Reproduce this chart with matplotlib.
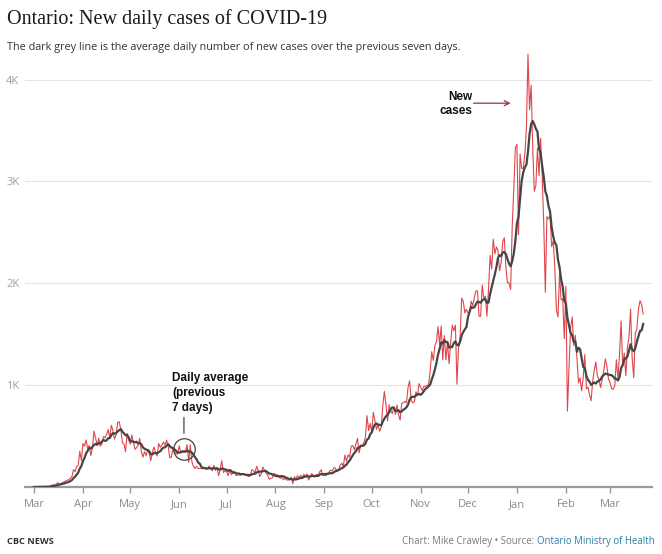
import matplotlib
matplotlib.use('Agg')
import matplotlib.pyplot as plt
import matplotlib.dates as mdates
import numpy as np
import pandas as pd

# daily new cases reported in Ontario, one list per month
mar20 = [0, 1, 1, 2, 3, 3, 2, 4, 5, 5, 5, 17, 20, 20, 27, 42, 32, 26, 44, 50,
         59, 67, 71, 85, 100, 170, 151, 200, 211, 351, 260]
apr20 = [426, 401, 462, 375, 408, 309, 379, 550, 478, 411, 478, 401, 421, 494, 483,
         514, 564, 485, 606, 551, 470, 510, 634, 640, 567, 437, 424, 347, 525, 459]
may20 = [421, 511, 434, 370, 387, 412, 477, 346, 294, 346, 308, 361, 329, 258, 345,
         391, 340, 304, 427, 390, 413, 441, 412, 460, 404, 287, 292, 383, 344, 323, 326]
jun20 = [404, 335, 338, 356, 344, 415, 243, 415, 251, 203, 182, 203, 182, 181, 184,
         178, 190, 173, 180, 206, 177, 160, 212, 163, 189, 111, 178, 257, 142, 157]
jul20 = [153, 111, 165, 121, 138, 154, 112, 118, 118, 116, 130, 129, 116, 111, 102,
         111, 170, 164, 135, 203, 165, 103, 129, 195, 168, 137, 119, 76, 86, 89, 134]
aug20 = [121, 122, 104, 86, 95, 71, 88, 70, 68, 70, 95, 33, 102, 78, 111, 90, 115,
         89, 125, 100, 129, 69, 103, 132, 108, 100, 125, 118, 148, 169, 112]
sep20 = [114, 111, 132, 148, 165, 158, 190, 185, 149, 170, 213, 232, 204, 313, 251,
         315, 293, 401, 407, 365, 425, 478, 335, 409, 409, 435, 491, 700, 554, 625]
oct20 = [538, 732, 653, 566, 615, 548, 583, 797, 939, 809, 649, 807, 746, 721, 783,
         712, 805, 704, 658, 821, 827, 841, 826, 978, 1042, 851, 827, 834, 934, 896, 1015]
nov20 = [977, 948, 987, 987, 998, 1003, 1132, 1328, 1242, 1388, 1426, 1575, 1396, 1581,
         1248, 1487, 1249, 1417, 1210, 1418, 1588, 1534, 1589, 1009, 1373, 1478, 1855,
         1822, 1708, 1746]
dec20 = [1707, 1723, 1824, 1780, 1859, 1924, 1925, 1676, 1676, 1983, 1848, 1873, 1677,
         1940, 2275, 2139, 2432, 2290, 2357, 2316, 2123, 2202, 2408, 2447, 2159, 2005,
         2005, 1939, 2553, 2923, 3328]
jan21 = [3363, 2476, 3270, 3128, 3128, 3266, 3519, 4249, 3704, 3945, 3338, 2903, 2961,
         3326, 3056, 3422, 3056, 2578, 1913, 2655, 2632, 2662, 2359, 2417, 2154, 1740,
         1670, 2093, 1837, 1848, 1456]
feb21 = [1969, 745, 1172, 1563, 1670, 1388, 1489, 1265, 1022, 1072, 945, 1076, 1300,
         964, 981, 904, 847, 1038, 1150, 1228, 1087, 1058, 975, 1054, 1138, 1258, 1185,
         1062]
mar21 = [1023, 966, 958, 994, 1250, 1068, 1299, 1631, 1185, 1316, 1092, 1371, 1468,
         1747, 1268, 1074, 1508, 1553, 1745, 1829, 1791, 1699]

start_date = '2020-03-01'
ytick_vals = [1000, 2000, 3000, 4000]
ytick_labels = ['1K', '2K', '3K', '4K']

daily = mar20 + apr20 + may20 + jun20 + jul20 + aug20 + sep20 + oct20 + nov20 + dec20 + jan21 + feb21 + mar21
dates = pd.date_range(start_date, periods=len(daily), freq='D')
cases = pd.Series(daily, index=dates)
avg7 = cases.rolling(7, min_periods=1).mean()

W, H = 662, 554
fig = plt.figure(figsize=(W / 100, H / 100), dpi=100)
ax = fig.add_axes([25 / W, 67 / H, (652 - 25) / W, (487 - 49) / H])

ax.plot(cases.index, cases.values, color='#e0454b', lw=0.8, zorder=3)
ax.plot(avg7.index, avg7.values, color='#454545', lw=1.6, zorder=4)

ax.set_xlim(pd.Timestamp('2020-02-24 07:00'), pd.Timestamp('2021-03-27 14:00'))
ax.set_ylim(0, 4300)

for s in ['top', 'right', 'left']:
    ax.spines[s].set_visible(False)
ax.spines['bottom'].set_color('#9a9a9a')
ax.spines['bottom'].set_linewidth(1.6)

ax.xaxis.set_major_locator(mdates.MonthLocator())
ax.xaxis.set_major_formatter(mdates.DateFormatter('%b'))
ax.tick_params(axis='x', direction='out', length=4.5, width=1, color='#9a9a9a',
               labelcolor='#8a8a8a', labelsize=8, pad=4)
for lab in ax.get_xticklabels():
    lab.set_family('Open Sans')

ax.set_yticks(ytick_vals)
ax.set_yticklabels(ytick_labels, family='Open Sans')
ax.tick_params(axis='y', length=0, labelcolor='#a0a0a0', labelsize=8, pad=4)
ax.grid(axis='y', color='#e4e4e4', lw=0.8)
ax.set_axisbelow(True)

# annotations
ax.text(pd.Timestamp('2020-05-27 12:00'), 1125, 'Daily average\n(previous\n7 days)',
        family='Liberation Sans', weight='bold', fontsize=8.5, color='#111111',
        ha='left', va='top', linespacing=1.3, zorder=6)
ax.annotate('', xy=(pd.Timestamp('2020-06-04'), 500), xytext=(pd.Timestamp('2020-06-04'), 710),
            arrowprops=dict(arrowstyle='-', color='#444444', lw=0.9))
ax.plot([pd.Timestamp('2020-06-04')], [372], marker='o', markersize=15.5,
        markerfacecolor='none', markeredgecolor='#444444', markeredgewidth=0.9, zorder=6)

ax.text(pd.Timestamp('2020-12-03 12:00'), 3890, 'New\ncases',
        family='Liberation Sans', weight='bold', fontsize=8.5, color='#111111',
        ha='right', va='top', multialignment='right', linespacing=1.3, zorder=6)
ax.annotate('', xy=(pd.Timestamp('2020-12-28'), 3768), xytext=(pd.Timestamp('2020-12-04 12:00'), 3768),
            arrowprops=dict(arrowstyle='->', color='#9b2d4d', lw=0.9,
                            mutation_scale=9, shrinkA=0, shrinkB=0))

# titles
fig.text(7 / W, 1 - 24 / H, 'Ontario: New daily cases of COVID-19', family='Liberation Serif',
         fontsize=14.5, color='#1a1a1a', ha='left', va='baseline')
fig.text(7 / W, 1 - 50 / H,
         'The dark grey line is the average daily number of new cases over the previous seven days.',
         family='Open Sans', fontsize=7.8, color='#333333', ha='left', va='baseline')

# footer
fig.text(7 / W, 1 - 544 / H, 'CBC NEWS', family='Open Sans', weight='bold', fontsize=6.6,
         color='#333333', ha='left', va='baseline')
link = fig.text(655 / W, 1 - 544 / H, 'Ontario Ministry of Health', family='Open Sans',
                fontsize=6.9, color='#2b7fa8', ha='right', va='baseline')
r = fig.canvas.get_renderer()
bb = link.get_window_extent(renderer=r)
fig.text(bb.x0 / W, 1 - 544 / H, 'Chart: Mike Crawley \u2022 Source: ', family='Open Sans',
         fontsize=6.9, color='#7a7a7a', ha='right', va='baseline')

fig.savefig('out.png', dpi=100)
